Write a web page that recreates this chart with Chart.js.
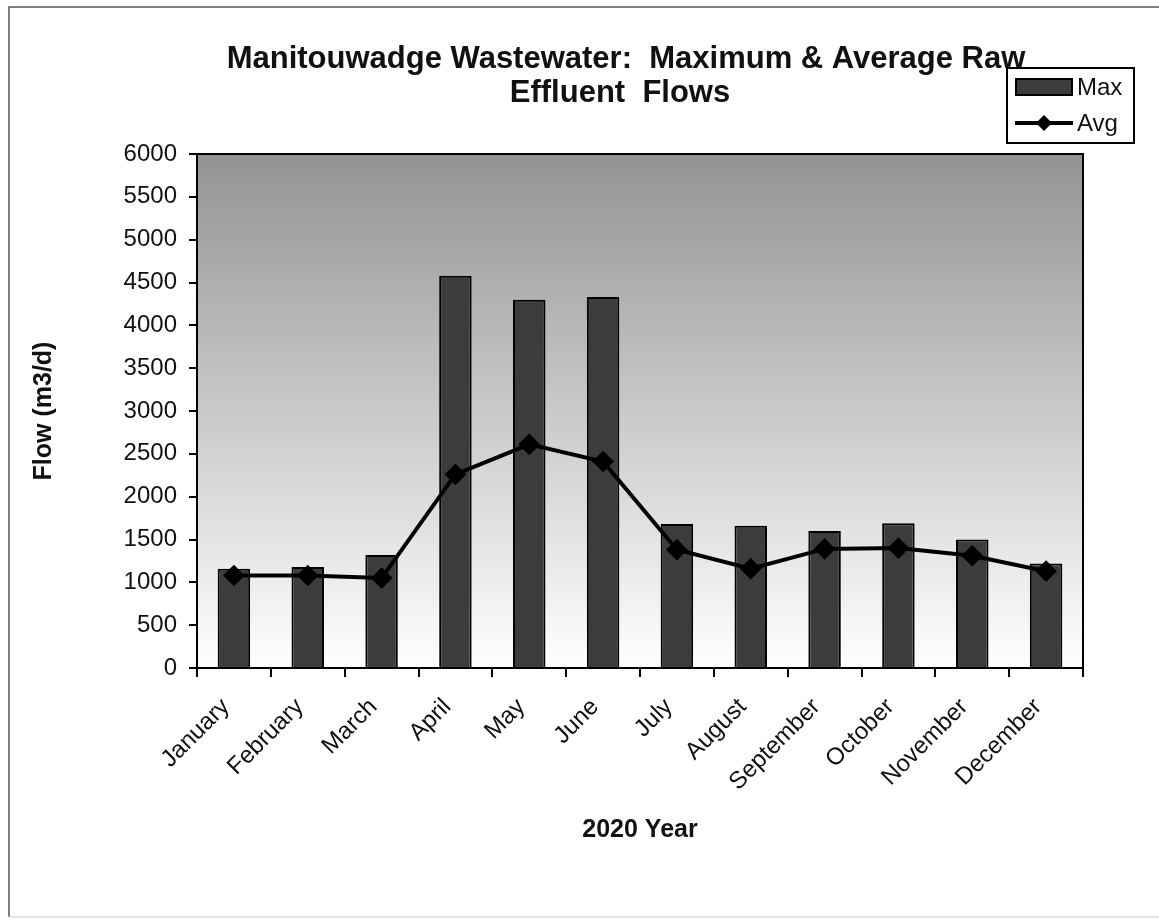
<!DOCTYPE html>
<html>
<head>
<meta charset="utf-8">
<script src="https://cdn.jsdelivr.net/npm/chart.js@4"></script>
<style>
  html, body { margin: 0; padding: 0; background: #fff; }
  #wrap { width: 1159px; height: 920px; position: relative; }
</style>
</head>
<body>
<div id="wrap"><canvas id="chart" width="1159" height="920"></canvas></div>
<script>
const months = ["January", "February", "March", "April", "May", "June",
  "July", "August", "September", "October", "November", "December"];
const maxFlow = [1160, 1180, 1320, 4580, 4300, 4330, 1680, 1660, 1600, 1690, 1500, 1220];
const avgFlow = [1080, 1080, 1050, 2260, 2610, 2410, 1380, 1160, 1390, 1400, 1310, 1130];
const yTicks = [0, 500, 1000, 1500, 2000, 2500, 3000, 3500, 4000, 4500, 5000, 5500, 6000];
const titleLines = ["Manitouwadge Wastewater:  Maximum & Average Raw", "Effluent  Flows"];

const FONT = "'Liberation Sans', Arial, sans-serif";
const BAR_FILL = "#3c3c3c";

// gradient plot background + frame around the plot
const plotFrame = {
  id: "plotFrame",
  beforeDatasetsDraw(chart) {
    const { ctx, chartArea: a } = chart;
    const g = ctx.createLinearGradient(0, a.top, 0, a.bottom);
    g.addColorStop(0, "#939393");
    g.addColorStop(1, "#ffffff");
    ctx.save();
    ctx.fillStyle = g;
    ctx.fillRect(a.left, a.top, a.right - a.left, a.bottom - a.top);
    ctx.restore();
  },
  afterDraw(chart) {
    const { ctx, chartArea: a } = chart;
    ctx.save();
    ctx.strokeStyle = "#000";
    ctx.lineWidth = 2;
    ctx.strokeRect(a.left, a.top, a.right - a.left, a.bottom - a.top);

    // outer page frame
    ctx.strokeStyle = "#555";
    ctx.lineWidth = 1.5;
    ctx.beginPath();
    ctx.moveTo(1159, 7);
    ctx.lineTo(9, 7);
    ctx.lineTo(9, 917);
    ctx.stroke();
    ctx.strokeStyle = "#ddd";
    ctx.beginPath();
    ctx.moveTo(9, 917);
    ctx.lineTo(1159, 917);
    ctx.stroke();

    // title
    ctx.fillStyle = "#111";
    ctx.font = `bold 31px ${FONT}`;
    ctx.textAlign = "center";
    ctx.textBaseline = "alphabetic";
    ctx.fillText(titleLines[0], 626, 68);
    ctx.fillText(titleLines[1], 620, 102);

    // legend box
    const ds = chart.data.datasets;
    ctx.fillStyle = "#fff";
    ctx.fillRect(1007, 68, 127, 75);
    ctx.strokeStyle = "#000";
    ctx.lineWidth = 2;
    ctx.strokeRect(1007, 68, 127, 75);

    ctx.fillStyle = BAR_FILL;
    ctx.fillRect(1016, 79, 56, 16);
    ctx.strokeRect(1016, 79, 56, 16);

    ctx.lineWidth = 4;
    ctx.beginPath();
    ctx.moveTo(1015, 123);
    ctx.lineTo(1073, 123);
    ctx.stroke();
    ctx.fillStyle = "#000";
    ctx.beginPath();
    ctx.moveTo(1044, 115);
    ctx.lineTo(1052, 123);
    ctx.lineTo(1044, 131);
    ctx.lineTo(1036, 123);
    ctx.closePath();
    ctx.fill();

    ctx.fillStyle = "#111";
    ctx.font = `24px ${FONT}`;
    ctx.textAlign = "left";
    ctx.textBaseline = "middle";
    ctx.fillText(ds[1].label, 1077, 88);
    ctx.fillText(ds[0].label, 1077, 124);
    ctx.restore();
  },
};

new Chart(document.getElementById("chart"), {
  type: "bar",
  data: {
    labels: months,
    datasets: [
      {
        type: "line",
        label: "Avg",
        data: avgFlow,
        borderColor: "#000",
        borderWidth: 4,
        pointStyle: "rectRot",
        pointRadius: 8,
        pointBackgroundColor: "#000",
        pointBorderColor: "#000",
        tension: 0,
        order: 0,
      },
      {
        label: "Max",
        data: maxFlow,
        backgroundColor: BAR_FILL,
        borderColor: "#000",
        borderWidth: 2,
        categoryPercentage: 1,
        barPercentage: 0.44,
        order: 1,
      },
    ],
  },
  options: {
    responsive: false,
    animation: false,
    layout: { padding: { top: 154, right: 76, bottom: 0, left: 10 } },
    plugins: {
      legend: { display: false },
      title: { display: false },
      tooltip: { enabled: false },
    },
    scales: {
      x: {
        offset: true,
        afterFit: (s) => { s.height = 252; },
        grid: { drawOnChartArea: false, offset: true, tickLength: 9, color: "#000", lineWidth: 2 },
        border: { display: true, color: "#000", width: 2 },
        ticks: {
          color: "#111",
          font: { family: FONT, size: 24 },
          maxRotation: 45,
          minRotation: 45,
          autoSkip: false,
          padding: 16,
          labelOffset: -8,
        },
        title: {
          display: true,
          text: "2020 Year",
          color: "#111",
          font: { family: FONT, size: 25, weight: "bold" },
          padding: { top: 0, bottom: 75 },
        },
      },
      y: {
        min: 0,
        max: 6000,
        afterFit: (s) => { s.width = 187; },
        afterBuildTicks: (s) => { s.ticks = yTicks.map(v => ({ value: v })); },
        grid: { drawOnChartArea: false, tickLength: 8, color: "#000", lineWidth: 2 },
        border: { display: true, color: "#000", width: 2 },
        ticks: {
          color: "#111",
          font: { family: FONT, size: 24 },
          padding: 12,
          callback: (v) => String(v),
        },
        title: {
          display: true,
          text: "Flow (m3/d)",
          color: "#111",
          font: { family: FONT, size: 25, weight: "bold" },
          padding: { top: 19, bottom: 0 },
        },
      },
    },
  },
  plugins: [plotFrame],
});
</script>
</body>
</html>
